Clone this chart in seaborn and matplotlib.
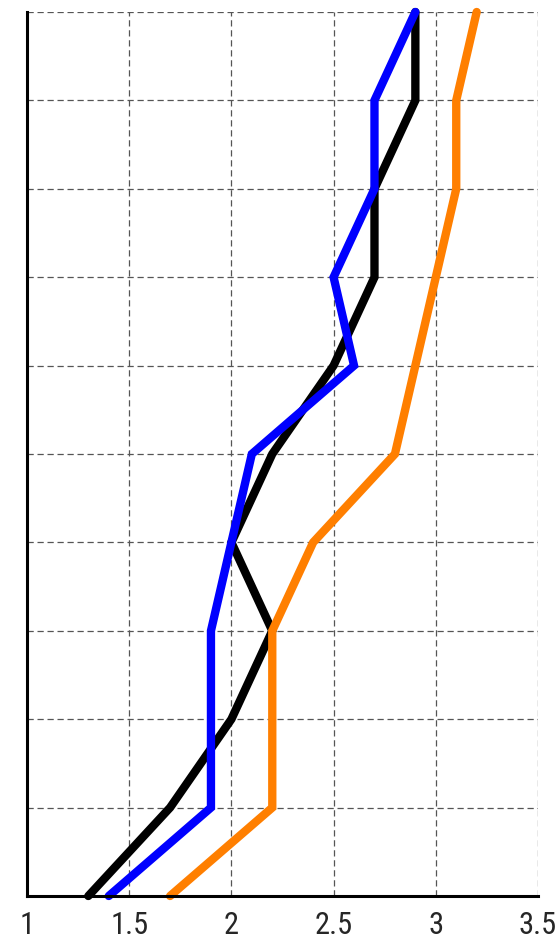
import matplotlib
matplotlib.use("Agg")
import matplotlib.pyplot as plt
import seaborn as sns
import pandas as pd

levels = [0, 1, 2, 3, 4, 5, 6, 7, 8, 9, 10]
black_vals = [1.3, 1.7, 2.0, 2.2, 2.0, 2.2, 2.5, 2.7, 2.7, 2.9, 2.9]
blue_vals = [1.4, 1.9, 1.9, 1.9, 2.0, 2.1, 2.6, 2.5, 2.7, 2.7, 2.9]
orange_vals = [1.7, 2.2, 2.2, 2.2, 2.4, 2.8, 2.9, 3.0, 3.1, 3.1, 3.2]
x_ticks = [1, 1.5, 2, 2.5, 3, 3.5]
x_tick_labels = ["1", "1.5", "2", "2.5", "3", "3.5"]

sns.set_style("white")
plt.rcParams['font.family'] = ['Roboto Condensed', 'DejaVu Sans']

fig = plt.figure(figsize=(5.58, 9.42), dpi=100)
ax = fig.add_axes([27/558, 46/942, (538-27)/558, (896-12)/942])

series = [("black", black_vals, "#000000"), ("blue", blue_vals, "#0000ff"), ("orange", orange_vals, "#ff7f00")]
for name, vals, col in series:
    df = pd.DataFrame({"x": vals, "y": levels})
    sns.lineplot(data=df, x="x", y="y", sort=False, estimator=None, ax=ax,
                 color=col, linewidth=6.0, solid_capstyle="round", solid_joinstyle="miter",
                 zorder=3, clip_on=False)

ax.set_xlim(1, 3.5)
ax.set_ylim(0, 10)
ax.set_xticks(x_ticks)
ax.set_xticklabels(x_tick_labels, fontsize=22, stretch="condensed")
ax.set_yticks(levels)
ax.set_yticklabels([])
ax.tick_params(axis="both", length=0, pad=11)
ax.set_xlabel("")
ax.set_ylabel("")
ax.grid(True, color="#555555", linestyle=(0, (5, 3)), linewidth=0.9, zorder=0)
ax.set_axisbelow(True)
for s in ["top", "right"]:
    ax.spines[s].set_visible(False)
for s in ["left", "bottom"]:
    ax.spines[s].set_color("black")
    ax.spines[s].set_linewidth(2.2)
    ax.spines[s].set_zorder(4)

fig.savefig("out.png", dpi=100)
